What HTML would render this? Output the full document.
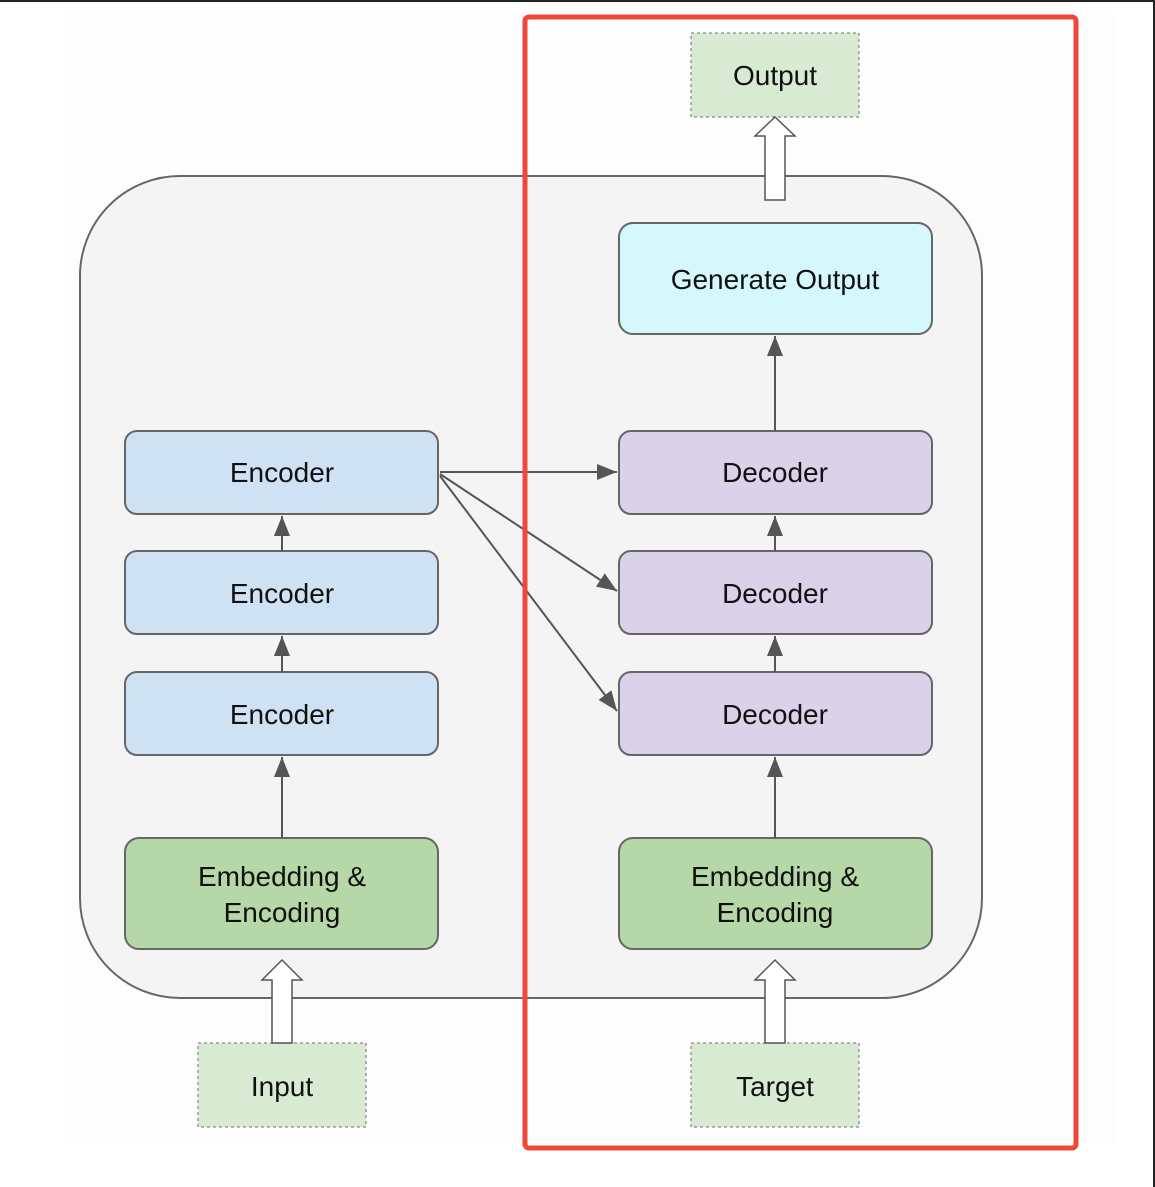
<!DOCTYPE html>
<html><head><meta charset="utf-8"><style>
html,body{margin:0;padding:0;background:#fff;}
svg{display:block;}
text{font-family:"Liberation Sans",Arial,sans-serif;font-size:28px;fill:#111;text-anchor:middle;}
</style></head><body>
<svg width="1155" height="1187" viewBox="0 0 1155 1187" xmlns="http://www.w3.org/2000/svg">
<defs>
<marker id="ah" viewBox="0 0 10 10" refX="10" refY="5" markerWidth="8" markerHeight="8" markerUnits="userSpaceOnUse" orient="auto">
</marker>
<marker id="a" viewBox="0 0 20 16" refX="20" refY="8" markerWidth="20" markerHeight="16" markerUnits="userSpaceOnUse" orient="auto"><path d="M0,0 L20,8 L0,16 Z" fill="#555"/></marker>
</defs>
<rect x="0" y="0" width="1155" height="1187" fill="#fff"/>
<rect x="64" y="14" width="1052" height="1130" fill="#fdfdfd"/>
<rect x="0" y="0" width="1155" height="2" fill="#222"/>
<rect x="1153" y="0" width="2" height="1187" fill="#222"/>
<!-- container -->
<rect x="80" y="176" width="902" height="822" rx="100" ry="100" fill="#f4f4f4" stroke="#666" stroke-width="2"/>
<!-- output / input / target -->
<rect x="691" y="33" width="168" height="84" fill="#d9ead3" stroke="#999" stroke-width="1.5" stroke-dasharray="3,3"/>
<text x="775" y="85">Output</text>
<rect x="198" y="1043" width="168" height="84" fill="#d9ead3" stroke="#999" stroke-width="1.5" stroke-dasharray="3,3"/>
<text x="282" y="1096">Input</text>
<rect x="691" y="1043" width="168" height="84" fill="#d9ead3" stroke="#999" stroke-width="1.5" stroke-dasharray="3,3"/>
<text x="775" y="1096">Target</text>
<!-- hollow arrows -->
<path d="M765,200 L765,136 L755,136 L775,117 L795,136 L785,136 L785,200 Z" fill="#fff" stroke="#555" stroke-width="1.5"/>
<path d="M272,1043 L272,980 L262,980 L282,960 L302,980 L292,980 L292,1043 Z" fill="#fff" stroke="#555" stroke-width="1.5"/>
<path d="M765,1043 L765,980 L755,980 L775,960 L795,980 L785,980 L785,1043 Z" fill="#fff" stroke="#555" stroke-width="1.5"/>
<!-- boxes -->
<rect x="619" y="223" width="313" height="111" rx="14" fill="#d4f8fb" stroke="#666" stroke-width="2"/>
<text x="775" y="289">Generate Output</text>
<g fill="#cfe2f3" stroke="#666" stroke-width="2">
<rect x="125" y="431" width="313" height="83" rx="12"/>
<rect x="125" y="551" width="313" height="83" rx="12"/>
<rect x="125" y="672" width="313" height="83" rx="12"/>
</g>
<g fill="#d9d2e9" stroke="#666" stroke-width="2">
<rect x="619" y="431" width="313" height="83" rx="12"/>
<rect x="619" y="551" width="313" height="83" rx="12"/>
<rect x="619" y="672" width="313" height="83" rx="12"/>
</g>
<g fill="#b6d7a8" stroke="#666" stroke-width="2">
<rect x="125" y="838" width="313" height="111" rx="14"/>
<rect x="619" y="838" width="313" height="111" rx="14"/>
</g>
<text x="282" y="482">Encoder</text>
<text x="282" y="603">Encoder</text>
<text x="282" y="724">Encoder</text>
<text x="775" y="482">Decoder</text>
<text x="775" y="603">Decoder</text>
<text x="775" y="724">Decoder</text>
<text x="282" y="886">Embedding &amp;</text>
<text x="282" y="922">Encoding</text>
<text x="775" y="886">Embedding &amp;</text>
<text x="775" y="922">Encoding</text>
<!-- connectors -->
<g stroke="#555" stroke-width="2" fill="none" marker-end="url(#a)">
<line x1="282" y1="838" x2="282" y2="757"/>
<line x1="282" y1="672" x2="282" y2="636"/>
<line x1="282" y1="551" x2="282" y2="516"/>
<line x1="775" y1="838" x2="775" y2="757"/>
<line x1="775" y1="672" x2="775" y2="636"/>
<line x1="775" y1="551" x2="775" y2="516"/>
<line x1="775" y1="431" x2="775" y2="336"/>
<line x1="440" y1="472" x2="617" y2="472"/>
<line x1="440" y1="474" x2="617" y2="591"/>
<line x1="440" y1="476" x2="617" y2="711"/>
</g>
<!-- red highlight -->
<rect x="525" y="17" width="551" height="1131" rx="4" fill="none" stroke="#ef473a" stroke-width="5"/>
</svg>
</body></html>
